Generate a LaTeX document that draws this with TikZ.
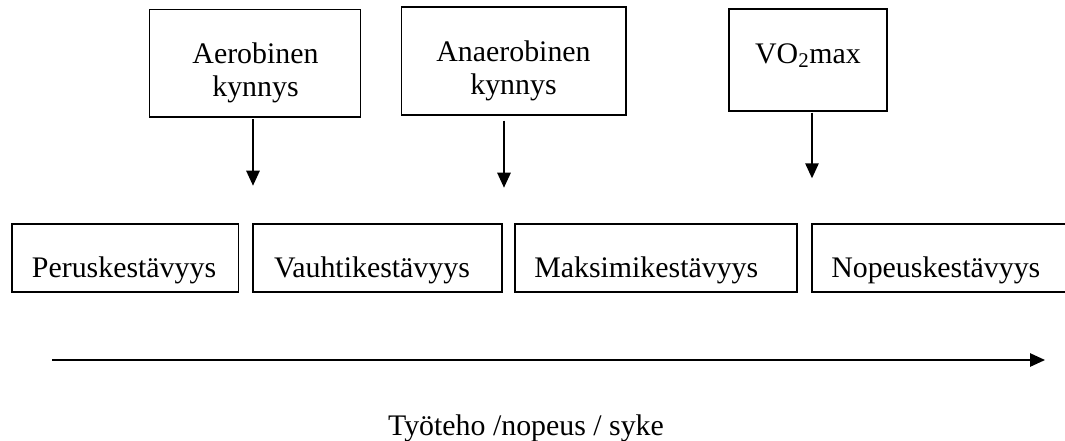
\documentclass[tikz,border=0pt]{standalone}
\usepackage{fontspec}
\setmainfont{Liberation Serif}
\usetikzlibrary{arrows.meta,fit}
\tikzset{
  boxnode/.style={draw=black, line width=1.4pt, inner sep=0pt},
  txt/.style={inner sep=0pt, font=\fontsize{22.4pt}{24.75pt}\selectfont, align=center},
  arr/.style={line width=1.3pt, -{Triangle[length=11.25pt,width=10pt]}}
}
\begin{document}
\begin{tikzpicture}[x=0.75pt,y=-0.75pt]
\clip (0,0) rectangle (1065,440);
\fill[white] (0,0) rectangle (1065,440);
% top boxes
\node[boxnode, fit={(149.5,9.5) (360.5,116.7)}] (b1) {};
\node[boxnode, fit={(401.5,7.3) (626,115.3)}] (b2) {};
\node[boxnode, fit={(729,9.3) (887.3,111.2)}] (b3) {};
\node[txt, anchor=base] (t1) at (255.5,96) {Aerobinen\\kynnys};
\node[txt, anchor=base] (t2) at (513.5,94.5) {Anaerobinen\\kynnys};
\node[txt, anchor=base] (t3) at (808,63.5) {VO\textsubscript{2}max};
% bottom boxes
\node[boxnode, fit={(12,224) (238.5,292.3)}] (pA) {};
\node[boxnode, fit={(253,224) (502,292.3)}] (pB) {};
\node[boxnode, fit={(515,224) (797,292.3)}] (pC) {};
\node[boxnode, fit={(812,224) (1085,292.3)}] (pD) {};
\node[txt, anchor=base west] (tA) at (31.7,277.5) {Peruskestävyys};
\node[txt, anchor=base west] (tB) at (273.8,277.5) {Vauhtikestävyys};
\node[txt, anchor=base west] (tC) at (534,277.5) {Maksimikestävyys};
\node[txt, anchor=base west] (tD) at (831,277.5) {Nopeuskestävyys};
% arrows
\coordinate (a1s) at (253,119);
\coordinate (a1e) at (253,185.7);
\coordinate (a2s) at (504,120.7);
\coordinate (a2e) at (504,187.7);
\coordinate (a3s) at (812,112.5);
\coordinate (a3e) at (812,178.3);
\coordinate (hs) at (52,360);
\coordinate (he) at (1045,360);
\draw[arr] (a1s) -- (a1e);
\draw[arr] (a2s) -- (a2e);
\draw[arr] (a3s) -- (a3e);
\draw[arr] (hs) -- (he);
\node[txt, anchor=base] (axis) at (526,435) {Työteho /nopeus / syke};
\end{tikzpicture}
\end{document}
